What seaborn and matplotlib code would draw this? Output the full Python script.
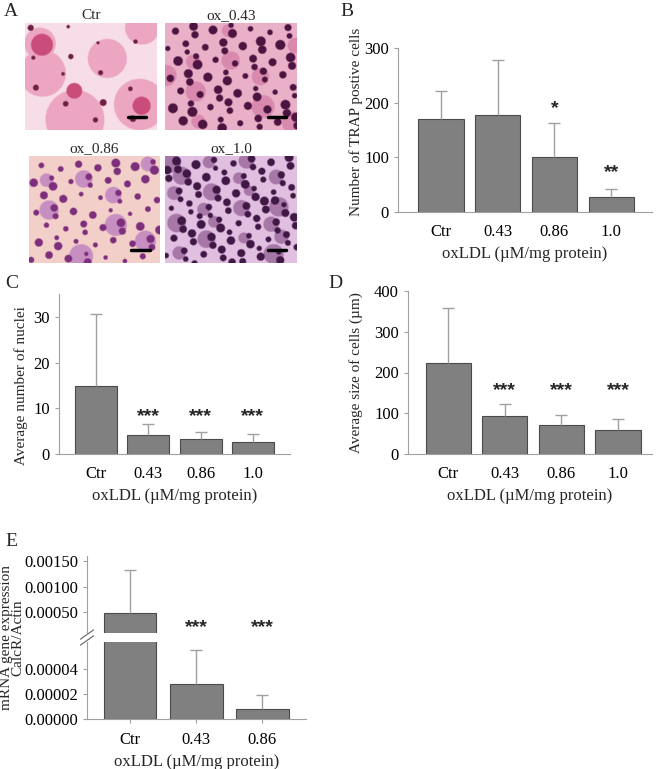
import numpy as np
import pandas as pd
import matplotlib
matplotlib.use("Agg")
import matplotlib.pyplot as plt
import seaborn as sns

# --- datos ---
groups = ["Ctr", "0.43", "0.86", "1.0"]
groups_e = ["Ctr", "0.43", "0.86"]

trap_mean = [171, 178, 101, 28]
trap_sd = [51, 100, 61, 14]
trap_stars = ["", "", "*", "**"]

nuclei_mean = [14.9, 4.2, 3.2, 2.6]
nuclei_sd = [15.8, 2.4, 1.6, 1.7]
nuclei_stars = ["", "***", "***", "***"]

size_mean = [223, 94, 72, 59]
size_sd = [135, 28, 24, 27]
size_stars = ["", "***", "***", "***"]

calcr_mean = [0.00048, 0.000028, 0.000008]
calcr_sd = [0.00084, 0.000027, 0.0000115]
calcr_stars = ["", "***", "***"]

image_titles = ["Ctr", "ox_0.43", "ox_0.86", "ox_1.0"]

xlabel = "oxLDL (\u00b5M/mg protein)"

# --- estilo ---
sns.set_style("ticks")
plt.rcParams["font.family"] = ["Liberation Serif", "DejaVu Serif"]
plt.rcParams["font.size"] = 11
plt.rcParams["axes.edgecolor"] = "#a0a0a0"
plt.rcParams["xtick.color"] = "#a0a0a0"
plt.rcParams["ytick.color"] = "#a0a0a0"
plt.rcParams["xtick.labelcolor"] = "black"
plt.rcParams["ytick.labelcolor"] = "black"
plt.rcParams["xtick.labelsize"] = 12
plt.rcParams["ytick.labelsize"] = 12

W, H = 658, 769
fig = plt.figure(figsize=(W / 100, H / 100), dpi=100)


def px_axes(x0, y0, x1, y1):
    return fig.add_axes([x0 / W, 1 - y1 / H, (x1 - x0) / W, (y1 - y0) / H])


BAR = "#808080"
EDGE = "#4a4a4a"
ERR = "#a0a0a0"
STAR = dict(fontsize=14, fontweight="bold", ha="center", va="center",
            family=["Liberation Sans", "DejaVu Sans"])


def draw_bars(ax, cats, means, sds):
    df = pd.DataFrame({"grupo": cats, "valor": means})
    sns.barplot(data=df, x="grupo", y="valor", color=BAR, edgecolor=EDGE,
                linewidth=0.8, width=0.8, saturation=1, ax=ax)
    _, caps, _ = ax.errorbar(range(len(cats)), means,
                             yerr=[np.zeros(len(cats)), sds], fmt="none",
                             ecolor=ERR, elinewidth=1, capsize=4, capthick=1)
    caps[0].remove()  # solo la barra superior


def bar_panel(ax, cats, means, sds, stars, star_y, ylim, yticks, xlim, ylabel,
              ylab_xy):
    draw_bars(ax, cats, means, sds)
    for i, s in enumerate(stars):
        if s:
            ax.text(i, star_y[i], s, **STAR)
    ax.set_ylim(*ylim)
    ax.set_xlim(*xlim)
    ax.set_yticks(yticks)
    ax.set_xlabel(xlabel, fontsize=12, labelpad=4)
    ax.set_ylabel(ylabel, fontsize=11)
    ax.yaxis.set_label_coords(*ylab_xy)
    ax.tick_params(axis="x", length=0, pad=9)
    ax.tick_params(axis="y", length=3)
    sns.despine(ax=ax)


# --- Panel A: microfotografías (textura sintética) ---
def texture(h, w, bg, layers):
    yy, xx = np.mgrid[0:h, 0:w]
    img = np.ones((h, w, 3)) * np.array(matplotlib.colors.to_rgb(bg))
    for n, rmin, rmax, col, off in layers:
        c = np.array(matplotlib.colors.to_rgb(col))
        mask = np.zeros((h, w))
        for i in range(n):
            cx = ((i * 0.7548776662 + off) % 1) * w
            cy = ((i * 0.5698402910 + off * 1.7) % 1) * h
            r = rmin + (rmax - rmin) * ((i * 0.6180339887 + off) % 1)
            d = np.sqrt((xx - cx) ** 2 + (yy - cy) ** 2)
            mask = np.maximum(mask, np.clip((r - d) / 1.5 + 0.5, 0, 1))
        img = img * (1 - mask[..., None]) + c * mask[..., None]
    return img


tex = [
    texture(107, 132, "#f7dde7", [(6, 14, 30, "#eca6c1", 0.11),
                                  (3, 6, 11, "#c94d7a", 0.37),
                                  (14, 1.5, 3.5, "#6e1f45", 0.53)]),
    texture(107, 132, "#eab0c8", [(10, 6, 12, "#d98aae", 0.21),
                                  (70, 2.5, 5, "#4d1440", 0.41)]),
    texture(107, 131, "#f3cfc8", [(8, 6, 12, "#c78fc2", 0.13),
                                  (60, 2, 4.5, "#7d2f7c", 0.67)]),
    texture(107, 132, "#e2bfe2", [(20, 5, 10, "#a777a7", 0.29),
                                  (90, 2.5, 4.5, "#3f1846", 0.83)]),
]
img_boxes = [(25, 23, 157, 130), (165, 23, 297, 130),
             (29, 156, 160, 263), (165, 156, 297, 263)]
for title, box, im in zip(image_titles, img_boxes, tex):
    a = px_axes(*box)
    a.imshow(im, aspect="auto", interpolation="bilinear")
    a.plot([0.78, 0.92], [0.12, 0.12], color="black", lw=2.5,
           transform=a.transAxes)
    a.set_axis_off()
    a.set_title(title, fontsize=11, pad=3)

# --- Panel B ---
axB = px_axes(398, 48, 652, 212)
bar_panel(axB, groups, trap_mean, trap_sd, trap_stars, [0, 0, 190, 72],
          (0, 300), [0, 100, 200, 300], (-0.76, 3.72),
          "Number of TRAP postive cells", (-35 / 254, 0.55))

# --- Panel C ---
axC = px_axes(59, 294, 290, 454)
bar_panel(axC, groups, nuclei_mean, nuclei_sd, nuclei_stars, [0, 8.2, 8.2, 8.2],
          (0, 35), [0, 10, 20, 30], (-0.71, 3.71),
          "Average number of nuclei", (-31 / 231, 0.43))

# --- Panel D ---
axD = px_axes(408, 291, 652, 454)
bar_panel(axD, groups, size_mean, size_sd, size_stars, [0, 155, 155, 155],
          (0, 400), [0, 100, 200, 300, 400], (-0.71, 3.6),
          "Average size of cells (\u00b5m)", (-45 / 244, 0.5))

# --- Panel E (eje partido) ---
axE1 = px_axes(87, 556, 306, 633)
axE2 = px_axes(87, 642, 306, 719)
for ax in (axE1, axE2):
    draw_bars(ax, groups_e, calcr_mean, calcr_sd)
    ax.set_xlim(-0.65, 2.66)
    ax.tick_params(axis="y", length=3)
    ax.set_ylabel("")
    sns.despine(ax=ax)
axE1.set_ylim(0.00009, 0.0016)
axE1.set_yticks([0.0005, 0.0010, 0.0015])
axE1.set_yticklabels(["0.00050", "0.00100", "0.00150"])
axE1.spines["bottom"].set_visible(False)
axE1.set_xticks([])
axE1.set_xlabel("")
for i, s in enumerate(calcr_stars):
    if s:
        axE1.text(i, 0.00019, s, **STAR)
axE2.set_ylim(0, 0.0000616)
axE2.set_yticks([0, 0.00002, 0.00004])
axE2.set_yticklabels(["0.00000", "0.00002", "0.00004"])
axE2.tick_params(axis="x", length=3, pad=6)
axE2.set_xlabel(xlabel, fontsize=12, labelpad=5)
# marcas de corte
for ax_, yb in ((axE1, -0.02), (axE2, 1.02)):
    ax_.plot([-0.03, 0.03], [yb - 0.06, yb + 0.06], color="#707070", lw=0.9,
             transform=ax_.transAxes, clip_on=False)
fig.text(0, 1 - 638 / H, "mRNA gene expression\nCalcR/Actin",
         rotation=90, ha="left", va="center", fontsize=11,
         linespacing=0.85, multialignment="center")

# --- letras de panel ---
for lab, x, y in [("A", 4, 12), ("B", 340, 12), ("C", 5, 283),
                  ("D", 328, 283), ("E", 5, 542)]:
    fig.text(x / W, 1 - y / H, lab, fontsize=14, ha="left", va="center")

fig.savefig("out.png", dpi=100)
